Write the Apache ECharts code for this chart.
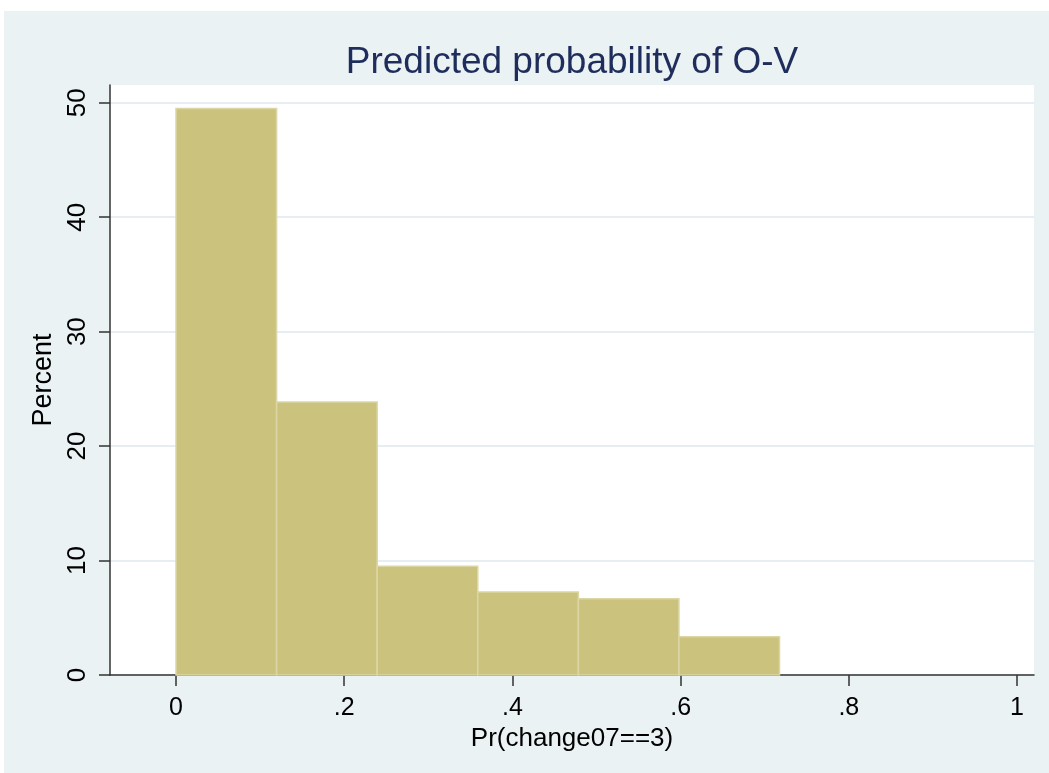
<!DOCTYPE html>
<html>
<head>
<meta charset="utf-8">
<script src="https://cdn.jsdelivr.net/npm/echarts@6/dist/echarts.min.js"></script>
<style>
html,body{margin:0;padding:0;background:#fff;}
#chart{width:1049px;height:773px;}
</style>
</head>
<body>
<div id="chart"></div>
<script>
// Data
const binStart = [0, 0.1196, 0.2392, 0.3588, 0.4784, 0.5980];
const binEnd   = [0.1196, 0.2392, 0.3588, 0.4784, 0.5980, 0.7176];
const percent  = [49.5, 23.85, 9.5, 7.25, 6.66, 3.35];
const xTicks = [0, 0.2, 0.4, 0.6, 0.8, 1];
const yTicks = [0, 10, 20, 30, 40, 50];
const titleText = 'Predicted probability of O-V';
const xName = 'Pr(change07==3)';
const yName = 'Percent';

const chart = echarts.init(document.getElementById('chart'), null, {renderer: 'canvas'});
const font = 'Liberation Sans, Arial, sans-serif';
const fmt = v => {
  if (v === 0) return '0';
  if (v === 1) return '1';
  return String(Math.round(v * 10) / 10).replace(/^0/, '');
};
const histData = binStart.map((s, i) => [s, binEnd[i], percent[i]]);

chart.setOption({
  backgroundColor: '#ffffff',
  animation: false,
  graphic: [{
    type: 'rect', z: -100, silent: true,
    shape: {x: 4, y: 11, width: 1045, height: 762},
    style: {fill: '#eaf2f3'}
  }],
  title: {
    text: titleText,
    left: 567, top: 39, textAlign: 'center',
    textStyle: {fontFamily: font, fontSize: 37, fontWeight: 'normal', color: '#1e2d5b'}
  },
  grid: {
    left: 110, right: 15, top: 85, bottom: 98,
    show: true, backgroundColor: '#ffffff', borderWidth: 0
  },
  xAxis: {
    type: 'value', min: -0.0785, max: 1.0202,
    name: xName, nameLocation: 'middle', nameGap: 48,
    nameTextStyle: {fontFamily: font, fontSize: 26, color: '#000'},
    axisLine: {show: true, onZero: false, lineStyle: {color: '#333', width: 1.5}},
    axisTick: {show: true, length: 11, customValues: xTicks, lineStyle: {color: '#333', width: 1.5}},
    axisLabel: {customValues: xTicks, formatter: fmt, margin: 21, fontFamily: font, fontSize: 25, color: '#000'},
    splitLine: {show: false}
  },
  yAxis: {
    type: 'value', min: 0, max: 51.55, interval: 10,
    name: yName, nameLocation: 'middle', nameGap: 47,
    nameTextStyle: {fontFamily: font, fontSize: 27, color: '#000'},
    axisLine: {show: true, onZero: false, lineStyle: {color: '#333', width: 1.5}},
    axisTick: {show: true, length: 11, customValues: yTicks, lineStyle: {color: '#333', width: 1.5}},
    axisLabel: {customValues: yTicks, rotate: 90, margin: 19, fontFamily: font, fontSize: 26, color: '#000'},
    splitLine: {show: true, lineStyle: {color: '#e6eef1', width: 2}}
  },
  series: [{
    type: 'custom',
    data: histData,
    encode: {x: [0, 1], y: 2},
    renderItem: function (params, api) {
      const p0 = api.coord([api.value(0), api.value(2)]);
      const p1 = api.coord([api.value(1), 0]);
      return {
        type: 'rect',
        shape: {x: p0[0], y: p0[1], width: p1[0] - p0[0], height: p1[1] - p0[1]},
        style: {fill: '#cbc37d', stroke: '#dcd6a4', lineWidth: 1.5}
      };
    }
  }]
});
</script>
</body>
</html>
